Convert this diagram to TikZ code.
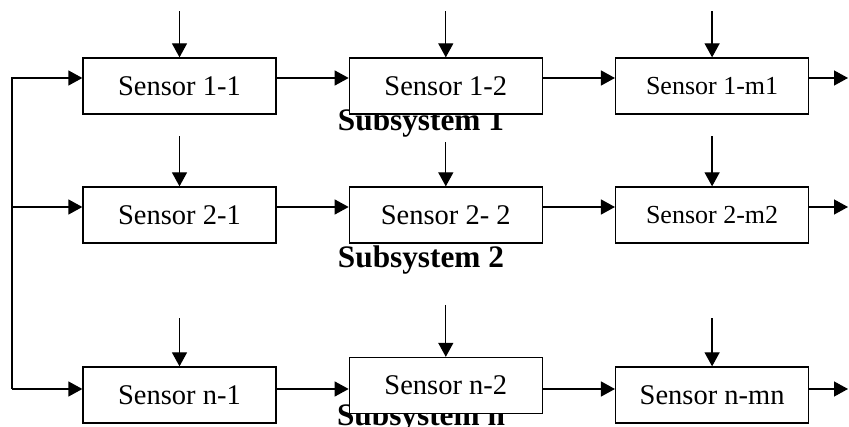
\documentclass[tikz,border=0pt]{standalone}
\usepackage{fontspec}
\setmainfont{Liberation Serif}
\usetikzlibrary{arrows.meta,positioning}

\begin{document}
\begin{tikzpicture}[x=1pt,y=-1pt,
  sensor/.style={draw,fill=white,line width=1.3pt,minimum width=193pt,minimum height=56pt,
    inner sep=0pt,font=\fontsize{28.5}{30}\selectfont},
  small/.style={font=\fontsize{26}{28}\selectfont},
  flow/.style={line width=1.3pt,-{Triangle[length=14pt,width=15pt]}},
  subsys/.style={anchor=base,inner sep=0pt,font=\fontsize{31.3}{33}\selectfont\bfseries}]
  \useasboundingbox (0,0) rectangle (849,427);
  % subsystem labels (the boxes are drawn over them)
  \node[subsys] (sub1) at (421,131) {Subsystem 1};
  \node[subsys] (sub2) at (421,268) {Subsystem 2};
  \node[subsys] (subn) at (421,426) {Subsystem n};
  % sensors
  \node[sensor] (s11) at (179.5,86) {Sensor 1-1};
  \node[sensor,right=72pt of s11] (s12) {Sensor 1-2};
  \node[sensor,small,right=72pt of s12] (s1m) {Sensor 1-m1};
  \node[sensor] (s21) at (179.5,215) {Sensor 2-1};
  \node[sensor,right=72pt of s21] (s22) {Sensor 2- 2};
  \node[sensor,small,right=72pt of s22] (s2m) {Sensor 2-m2};
  \node[sensor] (sn1) at (179.5,395) {Sensor n-1};
  \node[sensor,right=72pt of sn1,yshift=9.5pt] (sn2) {Sensor n-2};
  \node[sensor,right=72pt of sn2,yshift=-9.5pt] (snm) {Sensor n-mn};
  % row levels and outputs
  \coordinate (r1) at (12,78);
  \coordinate (r2) at (12,207);
  \coordinate (rn) at (12,389);
  \coordinate (o1) at (848,78);
  \coordinate (o2) at (848,207);
  \coordinate (on) at (848,389);
  % common feed on the left
  \draw[flow] (rn) -- (r1) -- (s11.west |- r1);
  \draw[flow] (r2) -- (s21.west |- r2);
  \draw[flow] (rn) -- (sn1.west |- rn);
  % along each subsystem
  \draw[flow] (s11.east |- r1) -- (s12.west |- r1);
  \draw[flow] (s12.east |- r1) -- (s1m.west |- r1);
  \draw[flow] (s1m.east |- r1) -- (o1);
  \draw[flow] (s21.east |- r2) -- (s22.west |- r2);
  \draw[flow] (s22.east |- r2) -- (s2m.west |- r2);
  \draw[flow] (s2m.east |- r2) -- (o2);
  \draw[flow] (sn1.east |- rn) -- (sn2.west |- rn);
  \draw[flow] (sn2.east |- rn) -- (snm.west |- rn);
  \draw[flow] (snm.east |- rn) -- (on);
  % inputs from above
  \draw[flow] ([yshift=46pt]s11.north) -- (s11.north);
  \draw[flow] ([yshift=46pt]s12.north) -- (s12.north);
  \draw[flow] ([yshift=46pt]s1m.north) -- (s1m.north);
  \draw[flow] ([yshift=50pt]s21.north) -- (s21.north);
  \draw[flow] ([yshift=44pt]s22.north) -- (s22.north);
  \draw[flow] ([yshift=50pt]s2m.north) -- (s2m.north);
  \draw[flow] ([yshift=48pt]sn1.north) -- (sn1.north);
  \draw[flow] ([yshift=52pt]sn2.north) -- (sn2.north);
  \draw[flow] ([yshift=48pt]snm.north) -- (snm.north);
\end{tikzpicture}
\end{document}
